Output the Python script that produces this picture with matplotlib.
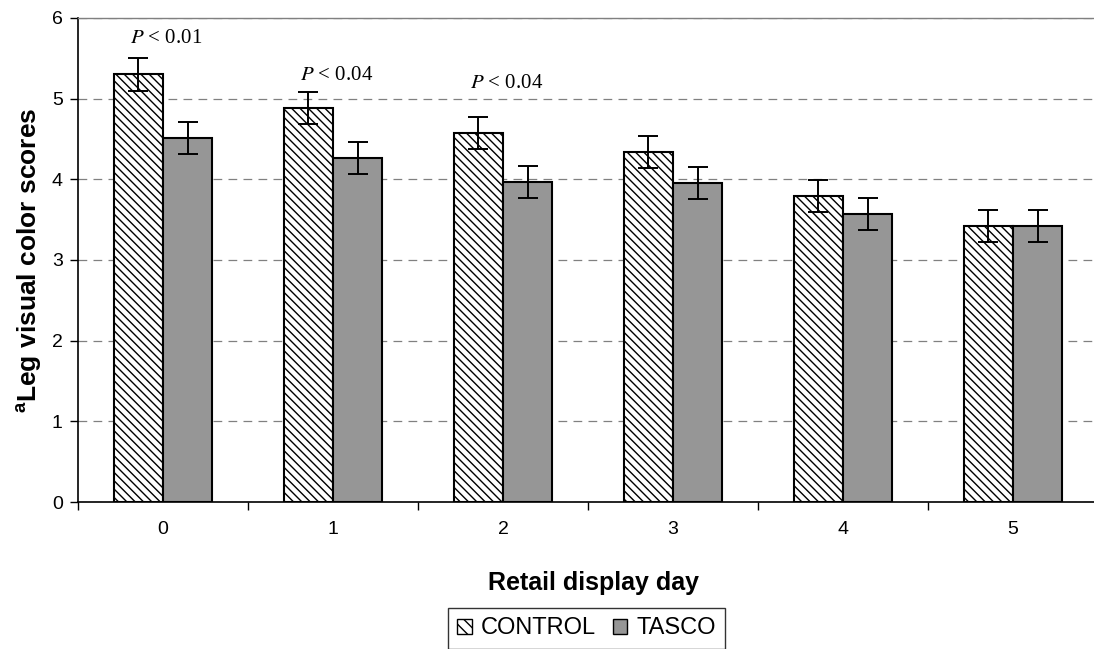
import numpy as np
import matplotlib.pyplot as plt
from matplotlib.patches import Patch

plt.rcParams['font.family'] = ['Liberation Sans', 'DejaVu Sans']
plt.rcParams['mathtext.fontset'] = 'custom'
plt.rcParams['mathtext.rm'] = 'Liberation Sans'
plt.rcParams['mathtext.bf'] = 'Liberation Sans:bold'
plt.rcParams['hatch.linewidth'] = 1.0

# adatok
days = ['0', '1', '2', '3', '4', '5']
control = [5.30, 4.88, 4.57, 4.34, 3.79, 3.42]
tasco = [4.51, 4.26, 3.97, 3.95, 3.57, 3.42]
control_err = [0.20, 0.20, 0.20, 0.20, 0.20, 0.20]
tasco_err = [0.20, 0.20, 0.20, 0.20, 0.20, 0.20]
p_labels = ['< 0.01', '< 0.04', '< 0.04']
p_y = [5.74, 5.29, 5.19]

fig = plt.figure(figsize=(10.94, 6.49), dpi=100)
# a rajzterület jobb széle kilóg a képből
ax = fig.add_axes([0.0713, 0.2265, 0.9324, 0.7458])

x = np.arange(len(days))
w = 0.29

ax.bar(x - w / 2, control, w, color='white', edgecolor='black', hatch='\\\\\\\\',
       linewidth=1.5, zorder=3)
ax.bar(x + w / 2, tasco, w, color='#969696', edgecolor='black',
       linewidth=1.5, zorder=3)
ax.errorbar(x - w / 2, control, yerr=control_err, fmt='none', ecolor='black',
            elinewidth=1.4, capsize=7, capthick=1.4, zorder=4)
ax.errorbar(x + w / 2, tasco, yerr=tasco_err, fmt='none', ecolor='black',
            elinewidth=1.4, capsize=7, capthick=1.4, zorder=4)

# szignifikancia feliratok
for i, lab in enumerate(p_labels):
    ax.text(x[i] + 0.02, p_y[i], r'$\it{P}$ ' + lab,
            ha='center', va='center', fontsize=15, family='Liberation Serif',
            math_fontfamily='stix')

ax.set_xlim(-0.5, len(days) - 0.5)
ax.set_ylim(0, 6)
ax.set_yticks(range(0, 7))
ax.yaxis.grid(True, linestyle=(0, (7, 5)), color='#808080', linewidth=0.9, zorder=0)

ax.set_xticks(x)
ax.set_xticklabels(days)
ax.set_xticks(np.arange(-0.5, len(days), 1.0), minor=True)
ax.tick_params(axis='x', which='major', length=0, pad=14, labelsize=14)
ax.tick_params(axis='x', which='minor', length=6, direction='out', width=1)
ax.tick_params(axis='y', length=6, direction='out', labelsize=14, width=1, pad=5)

for s in ['left', 'bottom']:
    ax.spines[s].set_color('black')
    ax.spines[s].set_linewidth(1.2)
for s in ['top', 'right']:
    ax.spines[s].set_color('#808080')
    ax.spines[s].set_linewidth(1.0)

ax.set_xlabel('Retail display day', fontsize=18, fontweight='bold')
ax.xaxis.set_label_coords(0.505, -0.142)
ax.set_ylabel(r'$\mathbf{^{a}}$Leg visual color scores', fontsize=19,
              fontweight='bold')
ax.yaxis.set_label_coords(-0.033, 0.5)

handles = [Patch(facecolor='white', edgecolor='black', hatch='\\\\\\', label='CONTROL'),
           Patch(facecolor='#969696', edgecolor='black', label='TASCO')]
leg = fig.legend(handles=handles, loc='upper left', bbox_to_anchor=(0.4095, 0.0632),
                 ncol=2, fontsize=17, frameon=True, fancybox=False,
                 edgecolor='black', handlelength=0.6, handleheight=0.6,
                 handletextpad=0.4, columnspacing=0.7, borderpad=0.4,
                 borderaxespad=0)
leg.get_frame().set_linewidth(1.0)

fig.savefig('out.png', dpi=100)
